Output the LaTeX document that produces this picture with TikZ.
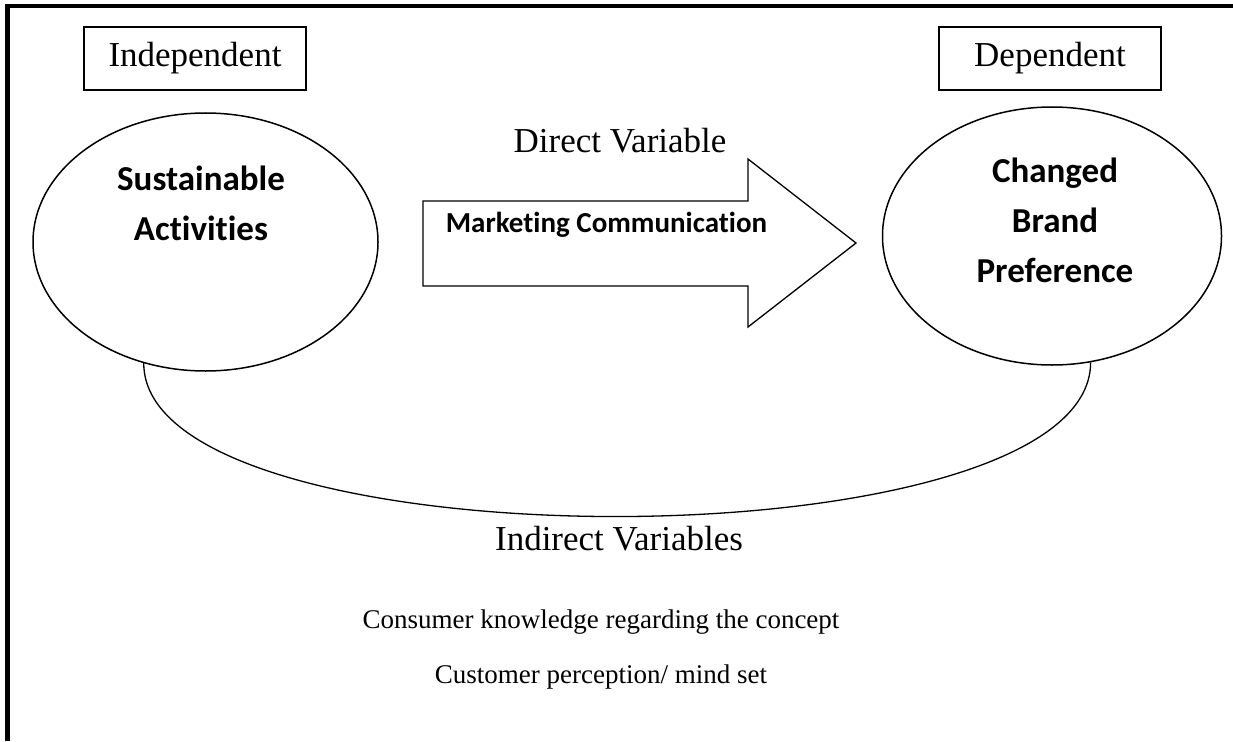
\documentclass[tikz,border=0pt]{standalone}
\usepackage{fontspec}
\setmainfont{Liberation Serif}
\newfontfamily\calibri[Ligatures=NoCommon]{Carlito}
\usetikzlibrary{shapes.geometric, positioning}

\tikzset{
  varbox/.style={draw, rectangle, line width=1.6pt, minimum width=222pt, minimum height=63pt, inner sep=0pt, font=\fontsize{35}{42}\selectfont},
  varellipse/.style={draw, ellipse, line width=1.5pt, inner sep=0pt},
  boldtext/.style={font=\calibri\bfseries\fontsize{35}{50}\selectfont, align=center},
  bigserif/.style={anchor=base, font=\fontsize{35}{42}\selectfont},
  smallserif/.style={anchor=base, font=\fontsize{27}{32}\selectfont}
}

\begin{document}
\begin{tikzpicture}[x=1pt, y=-1pt]
\useasboundingbox (0,0) rectangle (1233,741);
% Marco
\draw[line width=4pt] (5,6) -- (1233,6);
\draw[line width=4.5pt] (7.5,4) -- (7.5,741);

% Cajas de variables
\node[varbox] (indep) at (195,58.5) {Independent};
\node[varbox] (dep) at (1050,58.5) {Dependent};

% Elipses
\node[varellipse, minimum width=345pt, minimum height=258pt] (sa) at (205.5,242) {};
\node[varellipse, minimum width=339pt, minimum height=258pt] (cbp) at (1052,236) {};
\node[boldtext] (satext) at (201,203) {Sustainable\\Activities};
\node[boldtext] (cbptext) at (1055,220) {Changed\\Brand\\Preference};

% Flecha directa
\draw[line width=1.3pt, line join=miter] (423,201) -- (748,201) -- (748,159) -- (856,243) -- (748,327) -- (748,286) -- (423,286) -- cycle;
\node[anchor=base, font=\calibri\bfseries\fontsize{29}{35}\selectfont] (mc) at (606.5,232) {Marketing Communication};
\node[bigserif] (direct) at (620,152) {Direct Variable};

% Variables indirectas
\draw[line width=1.3pt] (sa.243) .. controls +(0,205) and +(0,205) .. (cbp.287);
\node[bigserif] (indirect) at (619,550) {Indirect Variables};
\node[smallserif] (know) at (601,628) {Consumer knowledge regarding the concept};
\node[smallserif] (percep) at (601,683) {Customer perception/ mind set};
\end{tikzpicture}
\end{document}
